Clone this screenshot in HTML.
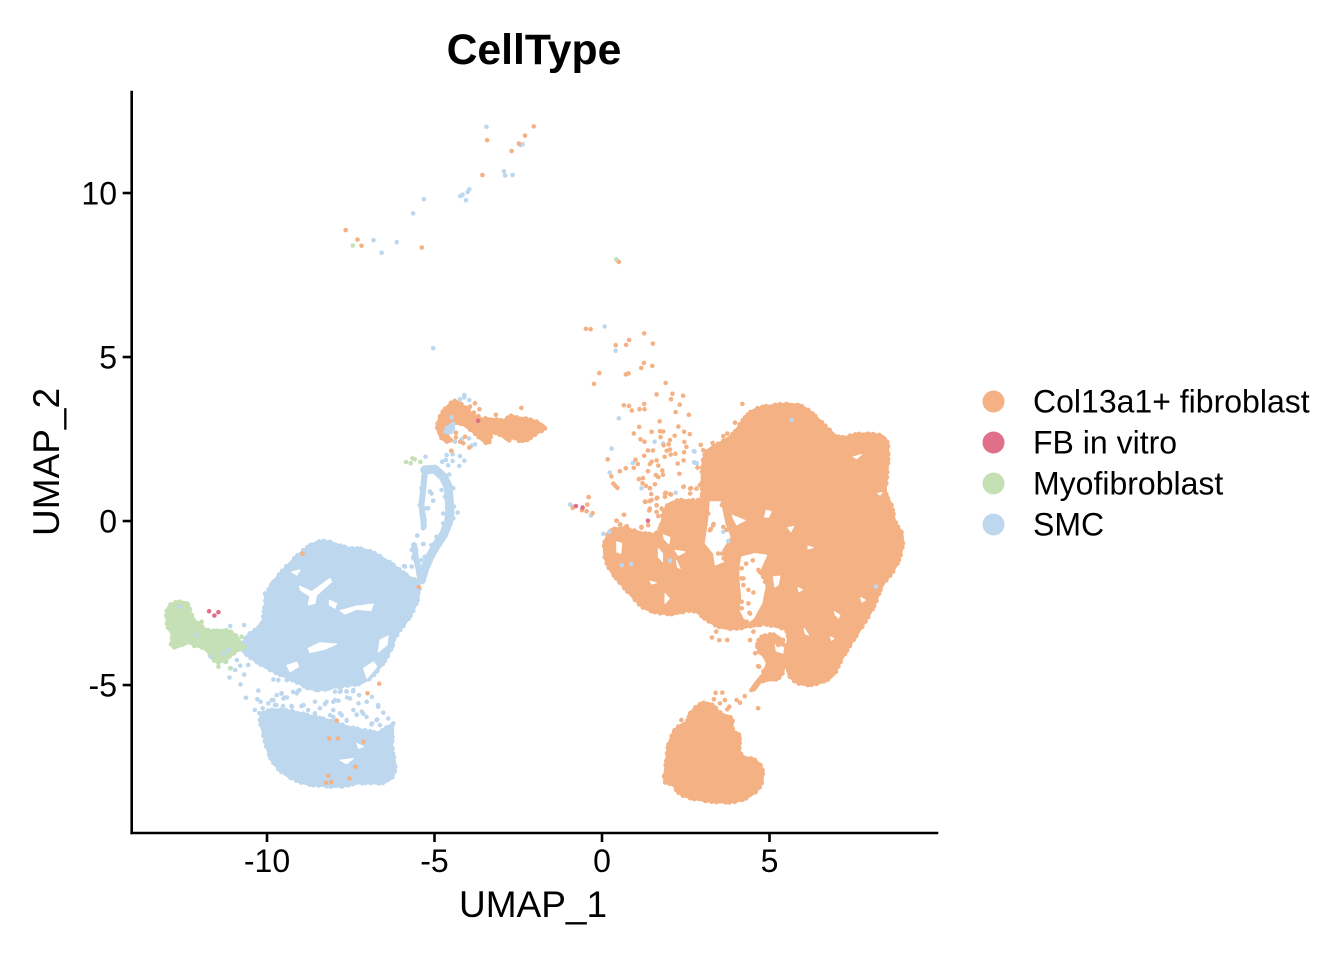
<!DOCTYPE html>
<html lang="en">
<head>
<meta charset="utf-8">
<title>CellType UMAP</title>
<style>
html,body{margin:0;padding:0;background:#fff}
svg{display:block;font-family:"Liberation Sans",Arial,sans-serif}
</style>
</head>
<body>
<svg id="chart" xmlns="http://www.w3.org/2000/svg" width="1344" height="960" viewBox="0 0 1344 960">
<rect width="1344" height="960" fill="#fff"/>
<g id="marks"></g>
<g id="axes"></g>
<text x="534" y="64" text-anchor="middle" font-size="42.7" font-weight="700" fill="#000">CellType</text>
<text x="533" y="917" text-anchor="middle" font-size="37" fill="#000">UMAP_1</text>
<text transform="translate(59,462) rotate(-90)" text-anchor="middle" font-size="37" fill="#000">UMAP_2</text>
<g id="legend"></g>
</svg>
<script>
// Axis domains and ticks
const xDomain = [-14.06, 10];
const yDomain = [-9.48, 13.08];
const xTicks = [-10, -5, 0, 5];
const yTicks = [-5, 0, 5, 10];

// Categories
const categories = ["Col13a1+ fibroblast", "FB in vitro", "Myofibroblast", "SMC"];

// Dense SMC regions (UMAP coordinates of region outlines)
const smcUpperRegion = [[-10.01,-2.15],[-9.71,-1.70],[-9.11,-1.05],[-8.62,-0.66],[-8.22,-0.58],[-7.62,-0.84],[-7.03,-0.84],[-6.33,-1.25],[-5.83,-1.66],[-5.42,-1.90],[-5.48,-2.41],[-5.78,-3.02],[-6.13,-3.43],[-6.33,-4.04],[-6.82,-4.75],[-7.22,-4.98],[-7.82,-5.03],[-8.62,-5.20],[-9.11,-4.90],[-9.81,-4.60],[-10.31,-4.30],[-10.75,-3.98],[-10.66,-3.50],[-10.15,-3.22],[-10.08,-2.71]];
const smcLowerRegion = [[-10.25,-5.90],[-9.81,-5.72],[-9.11,-5.82],[-8.62,-5.97],[-8.12,-6.07],[-7.62,-6.27],[-6.92,-6.42],[-6.63,-6.47],[-6.20,-6.10],[-6.30,-6.88],[-6.12,-7.59],[-6.40,-8.02],[-7.22,-7.96],[-7.82,-8.12],[-8.42,-8.06],[-8.91,-8.02],[-9.55,-7.70],[-9.88,-7.29],[-10.02,-6.88],[-10.12,-6.47]];
const smcRingRegionRight = [[-5.29,1.56],[-4.99,1.58],[-4.74,1.35],[-4.59,1.05],[-4.56,0.64],[-4.54,0.23],[-4.59,-0.07],[-4.74,-0.43],[-4.94,-0.73],[-5.14,-1.09],[-5.29,-1.44],[-5.39,-1.80]];
const smcRingRegionLeft = [[-5.29,1.45],[-5.34,0.95],[-5.39,0.49],[-5.34,0.13],[-5.32,-0.17]];
const smcRingRegionLower = [[-5.61,-0.73],[-5.56,-1.09],[-5.49,-1.39],[-5.44,-1.70]];
const smcHookRegion = [[-4.69,2.78],[-4.49,2.98],[-4.39,2.93],[-4.52,2.69],[-4.64,2.67]];

// Dense fibroblast regions
const fibroBodyRegion = [[4.52,3.42],[5.01,3.52],[5.51,3.58],[6.01,3.52],[6.45,3.12],[6.80,2.76],[7.10,2.50],[7.60,2.66],[8.10,2.66],[8.52,2.56],[8.55,1.96],[8.50,1.35],[8.45,0.79],[8.65,0.53],[8.74,-0.08],[9.0,-0.38],[8.95,-0.99],[8.70,-1.55],[8.35,-1.95],[8.15,-2.56],[7.80,-3.17],[7.50,-3.63],[7.10,-4.29],[6.90,-4.80],[6.11,-5.06],[5.56,-4.80],[5.46,-4.14],[5.61,-3.33],[5.21,-3.22],[4.77,-3.12],[4.42,-3.20],[4.22,-3.26],[3.63,-3.30],[3.13,-3.04],[2.72,-2.66],[2.13,-2.88],[1.28,-2.72],[0.95,-2.36],[0.50,-1.85],[0.18,-1.42],[0.05,-0.99],[0.08,-0.55],[0.34,-0.18],[0.93,-0.28],[1.43,-0.43],[1.75,-0.33],[1.85,0.50],[2.43,0.68],[2.82,0.52],[3.02,0.78],[2.97,1.12],[3.02,2.10],[3.42,2.32],[3.92,2.62],[4.18,3.06]];
const fibroStripRegion = [[4.67,-3.53],[5.22,-3.42],[5.47,-3.83],[5.42,-4.85],[4.67,-4.85],[5.02,-4.24],[4.62,-3.98]];
const fibroLowerRegion = [[2.62,-5.82],[3.02,-5.50],[3.32,-5.60],[3.52,-5.88],[3.92,-5.98],[3.87,-6.43],[4.17,-6.53],[4.07,-6.88],[4.17,-7.20],[4.56,-7.25],[4.82,-7.54],[4.77,-8.14],[4.17,-8.56],[3.42,-8.58],[2.62,-8.46],[2.27,-8.30],[2.12,-8.0],[1.82,-8.0],[1.92,-7.39],[1.97,-6.78],[2.22,-6.27],[2.58,-6.12]];
const fibroHookRegion = [[-4.39,3.70],[-4.19,3.55],[-3.94,3.34],[-3.74,3.10],[-3.35,3.14],[-2.95,3.04],[-2.80,3.18],[-2.35,3.14],[-1.95,3.04],[-1.62,2.84],[-1.95,2.68],[-2.30,2.42],[-2.45,2.42],[-2.65,2.58],[-2.80,2.42],[-3.0,2.62],[-3.30,2.74],[-3.35,2.38],[-3.50,2.38],[-3.74,2.63],[-3.94,2.80],[-4.24,3.0],[-4.44,3.0],[-4.59,2.95],[-4.69,2.72],[-4.45,2.42],[-4.72,2.42],[-4.95,2.78],[-4.84,3.22],[-4.62,3.50]];
const fibroTailRegion = [[4.52,-5.11],[4.71,-4.85],[4.91,-4.65],[5.11,-4.39],[5.31,-4.19]];

// Dense myofibroblast region
const myoRegion = [[-13.0,-2.52],[-12.36,-2.42],[-12.26,-2.92],[-12.0,-3.18],[-11.70,-3.39],[-11.10,-3.28],[-10.66,-3.83],[-11.0,-4.02],[-11.30,-4.28],[-11.55,-4.33],[-11.80,-3.92],[-12.10,-3.77],[-12.40,-3.67],[-12.65,-3.87],[-12.90,-3.82],[-12.80,-3.48],[-13.0,-3.22]];

// Empty gaps inside dense regions
const smcGaps = [
 [[-9.03,-1.98],[-8.67,-2.15],[-8.12,-1.75],[-8.07,-1.85],[-8.52,-2.26],[-8.57,-2.51],[-8.77,-2.56],[-8.72,-2.29],[-9.01,-2.10]],
 [[-9.26,-1.55],[-9.01,-1.49],[-9.11,-1.65]],
 [[-8.14,-2.41],[-7.92,-2.51],[-7.97,-2.66],[-8.14,-2.56]],
 [[-7.82,-2.73],[-7.32,-2.59],[-6.82,-2.53],[-6.90,-2.73],[-7.32,-2.69],[-7.67,-2.84]],
 [[-8.77,-3.88],[-8.42,-3.71],[-7.92,-3.75],[-8.27,-3.91],[-8.72,-4.01]],
 [[-9.41,-4.40],[-9.11,-4.30],[-9.06,-4.44],[-9.31,-4.60]],
 [[-7.12,-4.49],[-6.82,-4.29],[-6.72,-4.44],[-7.02,-4.80]],
 [[-6.63,-3.63],[-6.38,-3.50],[-6.42,-3.78],[-6.68,-4.0]],
 [[-7.82,-7.29],[-7.42,-7.24],[-7.62,-7.40]],
 [[-7.32,-6.78],[-7.12,-6.88],[-7.27,-6.93]]
];
const fibroGaps = [
 [[0.44,-0.63],[0.59,-0.68],[0.56,-0.99],[0.44,-0.94]],
 [[1.68,-0.84],[1.81,-0.99],[1.81,-1.24],[1.68,-1.09]],
 [[1.83,-0.42],[2.03,-0.50],[2.00,-0.70],[1.86,-0.55]],
 [[2.18,-0.89],[2.48,-0.94],[2.28,-1.05]],
 [[2.22,-1.20],[2.33,-1.45],[2.25,-1.40]],
 [[1.43,-1.83],[1.63,-1.88],[1.48,-1.92]],
 [[1.88,-2.21],[2.01,-2.36],[1.88,-2.51]],
 [[3.23,0.59],[3.53,0.59],[3.67,-0.07],[3.82,-0.48],[3.58,-0.88],[3.63,-1.24],[3.38,-1.34],[3.33,-0.99],[3.08,-0.68],[3.18,-0.02]],
 [[4.17,-1.09],[4.57,-0.99],[4.92,-1.04],[4.72,-1.49],[4.87,-2.0],[4.77,-2.51],[4.52,-2.97],[4.32,-3.12],[4.12,-2.71],[4.17,-2.31],[4.12,-1.80],[4.12,-1.39]],
 [[3.87,0.18],[4.27,0.02],[4.02,-0.12]],
 [[5.11,-1.70],[5.31,-1.68],[5.26,-1.95],[5.16,-2.01]],
 [[4.90,0.33],[5.05,0.29],[4.98,0.12],[4.85,0.12]],
 [[5.55,-0.20],[5.72,-0.16],[5.64,-0.33]],
 [[6.15,-0.76],[6.30,-0.81],[6.15,-0.85]],
 [[5.85,-2.03],[5.98,-2.09],[5.88,-2.16]],
 [[6.93,-2.76],[7.10,-2.87],[7.06,-2.96],[6.97,-2.87]],
 [[6.03,-3.27],[6.17,-3.48],[6.07,-3.44]],
 [[6.82,-3.53],[6.92,-3.58],[6.85,-3.64]],
 [[7.72,-2.33],[7.86,-2.41],[7.76,-2.47]],
 [[7.50,1.96],[7.75,2.03],[7.60,1.90]],
 [[8.22,0.84],[8.36,0.87],[8.30,0.79]],
 [[5.17,-3.78],[5.42,-3.85],[5.40,-4.03],[5.20,-3.96]]
];

// Individually visible cells, by cell type
const fibroCells = [[-0.48,5.86],[-0.34,5.85],[1.26,5.72],[0.81,5.52],[0.41,5.36],[0.72,5.37],[1.52,5.41],[1.25,4.82],[1.50,4.73],[1.17,4.67],[0.79,4.50],[0.71,4.47],[-0.08,4.51],[-0.24,4.18],[1.90,4.21],[2.10,3.88],[1.63,3.86],[2.42,3.82],[2.06,3.71],[2.32,3.55],[1.26,3.57],[0.65,3.53],[0.81,3.51],[0.89,3.37],[1.12,3.41],[1.27,3.41],[2.20,3.32],[2.59,3.24],[1.72,3.04],[1.11,2.87],[2.28,2.88],[1.48,2.72],[1.73,2.74],[1.83,2.73],[2.45,2.72],[2.62,2.65],[0.95,2.67],[2.17,2.60],[1.75,2.56],[1.15,2.49],[1.27,2.42],[2.03,2.47],[1.99,2.34],[1.84,2.31],[2.46,2.41],[2.52,2.26],[1.93,2.14],[2.03,2.18],[1.37,2.15],[1.52,2.15],[2.45,2.10],[2.19,2.05],[2.05,2.03],[1.87,1.96],[1.26,1.99],[1.00,1.87],[1.63,1.85],[1.48,1.81],[0.17,1.88],[1.07,1.74],[1.43,1.74],[1.68,1.69],[2.44,1.85],[2.26,1.75],[1.80,1.54],[0.95,1.62],[0.71,1.61],[0.53,1.52],[1.37,1.52],[0.28,1.36],[1.61,1.40],[1.82,1.41],[2.31,1.44],[1.68,1.34],[1.10,1.28],[1.22,1.31],[0.34,1.14],[0.40,1.07],[0.46,1.01],[1.21,1.15],[1.58,1.12],[1.31,1.07],[2.44,1.05],[1.43,1.0],[1.47,0.82],[1.90,0.86],[1.88,0.74],[2.06,0.81],[1.65,0.71],[-0.40,0.73],[1.30,0.59],[1.43,0.61],[1.63,0.48],[-0.44,0.50],[1.41,0.32],[0.65,0.19],[-0.60,0.33],[-0.46,0.30],[-0.28,0.24],[-0.875,0.40],[0.43,0.01],[0.54,-0.10],[0.74,-0.16],[1.18,-0.20],[2.95,2.32],[2.85,1.63],[2.99,0.76],[2.66,1.0],
 [3.33,-0.09],[3.25,-0.24],[3.58,0.49],[3.77,0.49],[3.82,0.13],[4.02,0.25],[3.77,-0.07],[3.72,-0.27],[3.58,-0.99],[3.72,-0.99],[3.63,-1.14],[3.77,-1.44],[3.97,-1.24],[4.02,-1.14],[4.17,-1.44],[4.17,-1.75],[4.22,-1.95],[4.37,-2.10],[4.52,-2.18],[4.17,-2.46],[4.37,-2.51],[4.17,-2.66],[4.40,-2.80],[4.32,-3.07],[4.67,-1.49],[4.77,-1.60],[4.87,-1.85],[4.97,-2.05],[4.92,-2.46],[4.97,-2.56],[4.84,-2.63],[5.02,-2.76],[4.72,-3.17],[4.52,-3.37],[4.42,-3.63],[4.57,-4.03],[4.69,-4.44],[3.41,-3.37],[3.28,-3.55],[3.50,-3.63],[3.74,-3.63],[5.02,-1.14],[5.02,-1.29],
 [3.62,-0.18],[3.32,-0.13],[3.47,-0.99],[4.22,-1.75],[4.42,-2.82],[4.27,-3.07],[4.71,-1.55],[4.81,-1.70],[4.81,-2.62],[4.66,-3.17],[4.76,-3.53],[4.81,-3.84],[4.71,-3.99],[5.01,-3.73],[5.26,-3.78],[5.41,-3.63],[5.61,-3.23],[5.11,-3.02],[4.66,-4.42],[5.31,-4.19],[5.16,-4.44],[5.01,-4.65],[4.76,-4.75],[3.12,0.43],[2.97,0.38],[3.17,0.23],[3.07,0.03],[3.22,-0.28],[4.30,-1.30],[4.50,-1.20],
 [3.02,2.16],[3.30,2.38],[3.62,2.59],[3.74,2.67],[3.97,3.0],[4.19,3.57],[2.63,0.99],[2.82,0.99],[2.92,1.09],[3.07,0.89],[2.63,0.84],[2.87,0.64],[3.07,0.74],[3.27,0.94],[2.72,0.64],[2.43,1.04],[1.88,0.84],[2.03,0.82],[1.63,0.69],[1.48,0.64],[1.28,0.59],[1.43,0.38],[1.63,0.48],[1.78,0.38],[1.63,0.28],[1.68,0.15],[1.38,-0.13],[1.18,-0.18],[0.73,-0.16],[0.44,0.01],[0.66,0.19],[0.54,-0.11],[0.83,-0.28],
 [3.39,-5.24],[3.59,-5.23],[3.34,-5.43],[3.67,-5.46],[3.52,-5.56],[4.02,-5.46],[4.12,-5.54],[3.80,-5.66],[3.74,-5.74],[4.26,-5.34],[4.46,-5.15],[4.61,-5.0],[4.81,-4.88],[4.66,-5.71],[2.37,-6.07],[2.17,-6.37],[4.21,-7.24],
 [-2.41,3.45],[-2.72,3.21],[-3.17,3.24],[-3.66,3.41],[-3.79,3.59],[-3.82,3.31],[-3.69,3.20],[-3.94,3.49],[-4.36,2.69],[-4.36,2.55],[-4.24,2.42],[-4.14,2.37],[-3.96,2.24],[-4.50,2.14],[-4.09,2.57],
 [-2.04,12.03],[-2.30,11.75],[-2.48,11.51],[-3.43,11.61],[-3.57,10.55],[-2.70,11.28],[-7.65,8.87],[-7.30,8.58],[-7.18,8.39],[-5.38,8.34],[0.50,7.90]];
const smcCells = [[-3.45,12.02],[-2.43,11.46],[-2.37,11.49],[-2.93,10.66],[-2.89,10.53],[-2.67,10.55],[-3.96,10.11],[-4.01,10.03],[-4.16,9.95],[-4.23,9.91],[-4.06,9.78],[-5.32,9.81],[-5.64,9.38],[-6.82,8.56],[-6.13,8.50],[-6.58,8.18],[0.46,7.94],[-5.04,5.27],
 [0.08,5.93],[0.41,5.19],[0.50,3.13],[1.57,2.42],[1.83,2.36],[0.29,2.21],[2.76,2.12],[0.92,1.77],[2.75,1.79],[2.83,1.76],[0.23,1.48],[1.18,1.0],[2.20,0.86],[-0.33,0.17],[-0.875,0.44],[-0.955,0.50],
 [2.03,-1.21],[0.87,-1.31],[3.77,-0.61],[3.62,-0.33],[0.04,-0.39],[0.22,-0.33],[0.59,-1.35],[8.18,-2.0],[5.66,3.08],[2.77,1.78],[2.74,2.13],
 [-5.52,-0.44],[-5.34,-0.70],[-4.31,0.26],[-5.09,0.84],[-5.04,0.62],[-5.19,0.39],[-5.14,0.90],[-4.56,1.42],[-5.27,1.96],[-4.77,1.81],[-4.64,2.01],[-4.46,2.04],[-4.24,1.98],[-4.11,1.84],[-4.46,1.83],[-4.26,1.68],[-4.59,1.70],[-4.66,1.86],[-4.39,2.42],[-4.19,2.49],[-3.97,2.52],[-3.79,2.34],[-3.89,2.30],[-4.11,3.84],[-4.24,3.71],[-3.96,3.69],[-4.11,3.77],[-4.49,3.16],
 [-5.34,1.35],[-5.39,1.0],[-5.44,0.49],[-5.39,0.23],[-5.24,0.39],[-5.29,0.03],[-5.34,-0.22],[-4.79,0.95],[-4.44,1.0],[-4.69,0.74],[-4.42,0.44],[-4.74,0.23],[-4.74,-0.07],[-4.44,0.08],[-4.94,-0.48],[-5.09,-0.73],[-4.84,-0.58],[-5.29,-1.09],[-5.04,-1.03],[-5.19,-1.34],[-5.68,-0.88],[-5.63,-1.14],[-5.39,-1.19],[-5.68,-1.39],[-5.91,-1.37],[-6.28,-1.37],
 [-10.63,-5.39],[-10.26,-5.17],[-10.29,-5.43],[-10.19,-5.51],[-10.36,-5.76],[-10.23,-5.86],[-10.13,-5.71],[-9.96,-5.56],[-9.86,-5.46],[-9.71,-5.31],[-9.56,-5.25],[-9.76,-5.61],[-9.51,-5.41],[-9.41,-5.38],[-9.11,-5.25],[-9.03,-5.15],[-9.26,-5.66],[-8.91,-5.61],[-8.57,-5.51],[-8.77,-5.76],[-8.42,-5.71],[-8.22,-5.51],[-7.97,-5.46],[-7.97,-5.20],[-7.80,-5.17],[-7.62,-5.20],[-7.42,-5.15],[-7.52,-5.41],[-7.27,-5.56],[-7.02,-5.51],[-6.87,-5.36],[-7.32,-5.91],[-7.17,-5.81],[-7.62,-6.07],[-6.68,-5.61],[-6.53,-5.84],[-6.73,-6.07],[-6.38,-6.02],[-6.63,-6.22],[-6.87,-6.17],[-8.37,-6.12],[-8.57,-5.86],[-8.02,-5.76],[-7.82,-5.86],[-7.42,-5.76],
 [-9.81,-5.46],[-9.57,-5.26],[-9.47,-5.38],[-9.22,-5.21],[-9.07,-5.18],[-8.54,-5.15],[-8.24,-5.13],[-7.82,-5.21],[-7.63,-5.19],[-7.43,-5.19],[-7.61,-5.38],[-7.25,-5.31],[-8.02,-5.51],[-7.87,-5.48],[-8.27,-5.58],[-8.97,-5.64],[-9.27,-5.64],[-9.52,-5.64],[-9.72,-5.61],[-8.57,-5.92],[-8.42,-6.07],[-8.12,-5.92],[-7.77,-5.92],[-7.62,-6.09],[-7.33,-5.90],[-7.13,-5.87],[-7.03,-5.97],[-6.68,-5.66],[-6.88,-6.2],[-6.71,-6.05],[-6.23,-6.17],[-8.02,-5.97],[-7.94,-6.09],[-8.17,-6.12],
 [-11.12,-4.77],[-10.79,-4.98],[-10.68,-4.68],[-10.95,-4.54],[-10.80,-4.41],[-10.56,-4.39],[-11.08,-4.49],[-11.22,-4.29],[-9.81,-4.83],[-9.66,-4.85],[-9.41,-4.85],[-9.56,-4.62],[-9.11,-4.64],[-11.10,-3.20],[-10.68,-3.17],[-10.36,-3.32],[-12.10,-3.48],[-11.68,-4.14],[-11.15,-3.93],[-11.30,-4.04],[-12.60,-2.61],[-10.90,-4.24],
 [-5.51,-0.44],[-5.33,-0.70],[-5.33,-0.07],[-5.55,-0.88],[-5.63,-1.09],[-5.88,-1.39],[-5.03,-0.78],[-5.13,-1.09],[-5.28,-1.29],[-5.43,-1.65],[-5.58,-1.80],[-10.06,-2.21]];
const smcEmbeddedFibroCells = [[-8.94,-1.0],[-5.47,-2.01],[-6.65,-4.96],[-7.0,-5.25],[-7.92,-6.08],[-7.12,-6.73],[-7.36,-7.49],[-8.24,-7.98],[-8.08,-7.96],[-8.14,-6.63],[-7.88,-6.63],[-8.17,-7.77],[-7.54,-7.85]];
const myoCells = [[-7.44,8.40],[0.42,7.98],[-5.85,1.80],[-5.71,1.76],[-5.66,1.91],[-5.59,1.88],[-5.42,1.80],[-12.40,-2.51],[-11.95,-3.07],[-12.17,-3.81],[-11.35,-3.37],[-11.10,-4.49],[-11.45,-4.44],[-11.25,-4.29],[-10.76,-3.53],[-10.66,-3.85],[-12.70,-3.27]];
const fbCells = [[-11.73,-2.75],[-11.57,-2.88],[-11.45,-2.78],[-0.78,0.46],[-0.58,0.41],[1.37,0.01],[-3.70,3.06]];

// Scales
const plotLeft = 131, plotRight = 937, plotTop = 92, plotBottom = 832;
const axisX = 131.7, axisY = 833;
function scaleX(v){ return plotLeft + (v - xDomain[0]) / (xDomain[1] - xDomain[0]) * (plotRight - plotLeft); }
function scaleY(v){ return plotBottom - (v - yDomain[0]) / (yDomain[1] - yDomain[0]) * (plotBottom - plotTop); }

const SVGNS = "http://www.w3.org/2000/svg";
const COL = {fibro:"#F4B183", fb:"#E0708A", myo:"#C5E0B4", smc:"#BDD7EE"};
const marks = document.getElementById("marks");
const axes = document.getElementById("axes");
const legend = document.getElementById("legend");
function ptsStr(a){ return a.map(p => scaleX(p[0]).toFixed(1) + "," + scaleY(p[1]).toFixed(1)).join(" "); }
function smoothPath(a){
  const px = a.map(p => [scaleX(p[0]), scaleY(p[1])]);
  const n = px.length;
  function mid(i,j){ return ((px[i][0]+px[j][0])/2).toFixed(1) + " " + ((px[i][1]+px[j][1])/2).toFixed(1); }
  let d = "M" + mid(n-1,0);
  for(let i=0;i<n;i++){
    d += "Q" + px[i][0].toFixed(1) + " " + px[i][1].toFixed(1) + " " + mid(i,(i+1)%n);
  }
  return d + "Z";
}

function drawRegion(name, pts, color){
  const el = document.createElementNS(SVGNS, "path");
  
  
  el.setAttribute("d", smoothPath(pts));
  el.setAttribute("fill", color);
  el.setAttribute("stroke", color);
  el.setAttribute("stroke-width", "2.5");
  el.setAttribute("stroke-linejoin", "round");
  marks.appendChild(el);
  const edge = document.createElementNS(SVGNS, "path");
  
  
  edge.setAttribute("d", smoothPath(pts));
  edge.setAttribute("fill", "none");
  edge.setAttribute("stroke", color);
  edge.setAttribute("stroke-width", "5");
  edge.setAttribute("stroke-linecap", "round");
  edge.setAttribute("stroke-dasharray", "0 4.1 0 7.7 0 5.3 0 3.7 0 9.1 0 4.9 0 6.3 0 11.3");
  marks.appendChild(edge);
}
function drawStrand(name, pts, color, width){
  const el = document.createElementNS(SVGNS, "polyline");
  
  
  el.setAttribute("points", ptsStr(pts));
  el.setAttribute("fill", "none");
  el.setAttribute("stroke", color);
  el.setAttribute("stroke-width", width);
  el.setAttribute("stroke-linejoin", "round");
  el.setAttribute("stroke-linecap", "round");
  marks.appendChild(el);
}
function drawGap(name, pts){
  const el = document.createElementNS(SVGNS, "polygon");
  
  
  el.setAttribute("points", ptsStr(pts));
  el.setAttribute("fill", "#fff");
  el.setAttribute("stroke", "#fff");
  el.setAttribute("stroke-width", "1");
  el.setAttribute("stroke-linejoin", "round");
  marks.appendChild(el);
}
function drawCells(name, pts, color){
  pts.forEach(function(p){
    const c = document.createElementNS(SVGNS, "circle");
    
    
    c.setAttribute("cx", scaleX(p[0]).toFixed(1));
    c.setAttribute("cy", scaleY(p[1]).toFixed(1));
    c.setAttribute("r", "2.3");
    c.setAttribute("fill", color);
    marks.appendChild(c);
  });
}

drawRegion("smc-upper-cluster", smcUpperRegion, COL.smc);
drawRegion("smc-lower-cluster", smcLowerRegion, COL.smc);
smcGaps.forEach(function(g){ drawGap("smc-cluster-gap", g); });
drawStrand("smc-ring-right", smcRingRegionRight, COL.smc, 9);
drawStrand("smc-ring-left", smcRingRegionLeft, COL.smc, 6);
drawStrand("smc-ring-lower", smcRingRegionLower, COL.smc, 6);
drawRegion("myofibroblast-cluster", myoRegion, COL.myo);
drawRegion("fibroblast-body-cluster", fibroBodyRegion, COL.fibro);
drawRegion("fibroblast-strip-cluster", fibroStripRegion, COL.fibro);
drawRegion("fibroblast-lower-cluster", fibroLowerRegion, COL.fibro);
drawRegion("fibroblast-hook-cluster", fibroHookRegion, COL.fibro);
drawStrand("fibroblast-tail", fibroTailRegion, COL.fibro, 6);
fibroGaps.forEach(function(g){ drawGap("fibroblast-cluster-gap", g); });
drawRegion("smc-hook-cluster", smcHookRegion, COL.smc);
drawCells("smc-cell", smcCells, COL.smc);
drawCells("fibroblast-cell", fibroCells, COL.fibro);
drawCells("fibroblast-cell-in-smc", smcEmbeddedFibroCells, COL.fibro);
drawCells("myofibroblast-cell", myoCells, COL.myo);
drawCells("fb-in-vitro-cell", fbCells, COL.fb);

function axisLine(name, x1, y1, x2, y2, w){
  const l = document.createElementNS(SVGNS, "line");
  
  
  l.setAttribute("x1", x1); l.setAttribute("y1", y1);
  l.setAttribute("x2", x2); l.setAttribute("y2", y2);
  l.setAttribute("stroke", "#000");
  l.setAttribute("stroke-width", w);
  l.setAttribute("stroke-linecap", "square");
  axes.appendChild(l);
}
axisLine("y-axis-line", axisX, plotTop, axisX, axisY, 2.6);
axisLine("x-axis-line", axisX, axisY, plotRight, axisY, 2.6);

xTicks.forEach(function(t){
  const x = scaleX(t);
  const tick = document.createElementNS(SVGNS, "line");
  
  
  tick.setAttribute("x1", x); tick.setAttribute("x2", x);
  tick.setAttribute("y1", axisY); tick.setAttribute("y2", axisY + 9);
  tick.setAttribute("stroke", "#000"); tick.setAttribute("stroke-width", "2.6");
  axes.appendChild(tick);
  const lab = document.createElementNS(SVGNS, "text");
  
  
  lab.setAttribute("x", x); lab.setAttribute("y", 872);
  lab.setAttribute("text-anchor", "middle");
  lab.setAttribute("font-size", "32");
  lab.textContent = String(t);
  axes.appendChild(lab);
});
yTicks.forEach(function(t){
  const y = scaleY(t);
  const tick = document.createElementNS(SVGNS, "line");
  
  
  tick.setAttribute("x1", axisX - 9); tick.setAttribute("x2", axisX);
  tick.setAttribute("y1", y); tick.setAttribute("y2", y);
  tick.setAttribute("stroke", "#000"); tick.setAttribute("stroke-width", "2.6");
  axes.appendChild(tick);
  const lab = document.createElementNS(SVGNS, "text");
  
  
  lab.setAttribute("x", 117); lab.setAttribute("y", y + 11.5);
  lab.setAttribute("text-anchor", "end");
  lab.setAttribute("font-size", "32");
  lab.textContent = String(t);
  axes.appendChild(lab);
});

const legendColors = [COL.fibro, COL.fb, COL.myo, COL.smc];
categories.forEach(function(cat, i){
  const cy = 401.5 + i * 41;
  const dot = document.createElementNS(SVGNS, "circle");
  
  
  dot.setAttribute("cx", 993.5); dot.setAttribute("cy", cy);
  dot.setAttribute("r", "11"); dot.setAttribute("fill", legendColors[i]);
  legend.appendChild(dot);
  const txt = document.createElementNS(SVGNS, "text");
  
  
  txt.setAttribute("x", 1033); txt.setAttribute("y", cy + 11);
  txt.setAttribute("font-size", "32");
  txt.textContent = cat;
  legend.appendChild(txt);
});
</script>
</body>
</html>
